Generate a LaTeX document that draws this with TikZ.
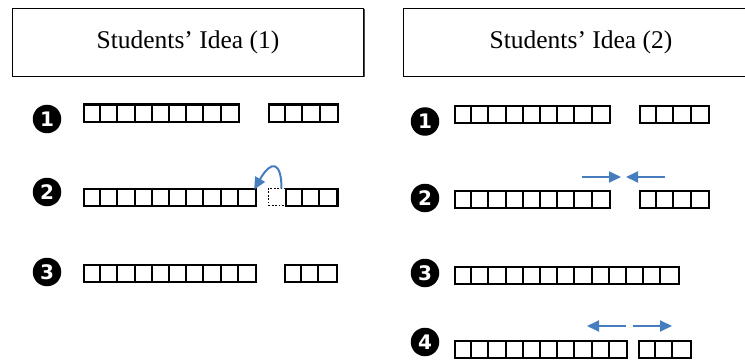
\documentclass[tikz,border=0pt]{standalone}
\usepackage{fontspec}
\setmainfont{Liberation Serif}
\newfontfamily\numfont{DejaVu Sans}
\usetikzlibrary{arrows.meta}
\definecolor{arrowblue}{RGB}{70,125,190}
\def\cw{17.2}
\tikzset{
  titlebox/.style={draw=black, line width=1pt, inner sep=0pt, font=\fontsize{25.5}{28}\selectfont},
  bar/.style={draw=black, line width=2.2pt, minimum height=17pt, inner sep=0pt, anchor=north west},
  cellline/.style={draw=black, line width=2pt},
  ghostcell/.style={draw=black, line width=1.8pt, dash pattern=on 1.8pt off 1.6pt, minimum height=17pt, minimum width=\cw pt, inner sep=0pt, anchor=north west},
  stepmark/.style={circle, fill=black, minimum size=28.5pt, inner sep=0pt, text=white, font=\numfont\bfseries\fontsize{20}{20}\selectfont},
  movearrow/.style={draw=arrowblue, line width=2pt, -{Triangle[length=12pt,width=11pt]}},
}
% a row of #4 cells, top-left corner at (#2,#3)
\newcommand\cellrow[4]{%
  \node[bar, minimum width=#4*\cw pt] (#1) at (#2,#3) {};
  \foreach \k in {1,...,#4}{%
    \ifnum\k<#4
      \draw[cellline] ([xshift=\k*\cw pt]#1.north west) -- ([xshift=\k*\cw pt]#1.south west);
    \fi}%
}
\begin{document}
\begin{tikzpicture}[x=1pt, y=-1pt]
\useasboundingbox (0,0) rectangle (745,361);
\begin{scope}
\clip (0,0) rectangle (745,361);
% title boxes with a darker lower right edge
\fill[black!70] (13.5,9.5) rectangle (364.5,77.5);
\node[titlebox, fill=white, minimum width=351pt, minimum height=68pt, anchor=north west] (t1) at (12,8) {Students’ Idea (1)};
\fill[black!70] (404.5,9.5) rectangle (760,77.5);
\node[titlebox, fill=white, minimum width=355pt, minimum height=68pt, anchor=north west] (t2) at (403,8) {Students’ Idea (2)};
\end{scope}

% ---- idea 1 ----
\node[stepmark] (a1) at (47,119) {1};
\cellrow{a1l}{83}{103.5}{9}
\cellrow{a1r}{268}{103.5}{4}

\node[stepmark] (a2) at (47,192) {2};
\cellrow{a2l}{83}{187.5}{10}
\node[ghostcell] (a2g) at (267.5,187.5) {};
\cellrow{a2r}{284.7}{187.5}{3}
\draw[movearrow] ([xshift=-5pt, yshift=-1pt]a2g.north east) .. controls ([xshift=-5pt,yshift=26pt]a2g.north east) and ([xshift=14pt,yshift=28pt]a2l.north east) .. ([xshift=-3pt, yshift=-2pt]a2l.north east);

\node[stepmark] (a3) at (47,272) {3};
\cellrow{a3l}{83}{263.5}{10}
\cellrow{a3r}{284}{263.5}{3}

% ---- idea 2 ----
\node[stepmark] (b1) at (425,121.5) {1};
\cellrow{b1l}{454}{105}{9}
\cellrow{b1r}{639}{105}{4}

\node[stepmark] (b2) at (425,198) {2};
\cellrow{b2l}{454}{189.5}{9}
\cellrow{b2r}{639}{189.5}{4}
\coordinate (b2p) at (582,177);
\coordinate (b2q) at (665,177);
\draw[movearrow] (b2p) -- (621,177);
\draw[movearrow] (b2q) -- (626,177);

\node[stepmark] (b3) at (425,273) {3};
\cellrow{b3l}{454}{265.5}{13}

\node[stepmark] (b4) at (425,342) {4};
\cellrow{b4l}{454}{340}{10}
\cellrow{b4r}{638}{340}{3}
\coordinate (b4p) at (626,326);
\coordinate (b4q) at (633,326);
\draw[movearrow] (b4p) -- (587,326);
\draw[movearrow] (b4q) -- (672,326);
\end{tikzpicture}
\end{document}
